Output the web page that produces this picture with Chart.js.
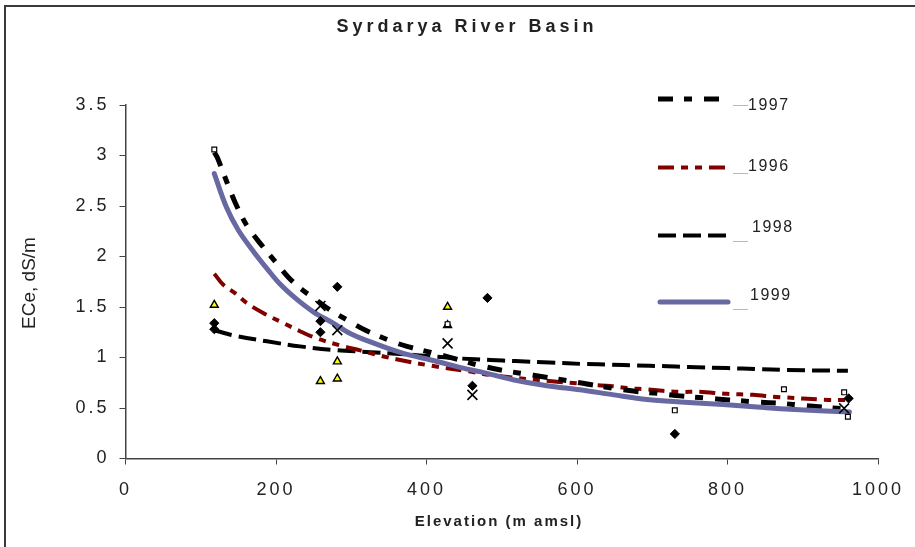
<!DOCTYPE html>
<html><head><meta charset="utf-8">
<script src="https://cdn.jsdelivr.net/npm/chart.js@4"></script>
<style>html,body{margin:0;padding:0;background:#fff;overflow:hidden;}#wrap{width:915px;height:547px;}</style>
</head><body><div id="wrap"><canvas id="c" width="915" height="547"></canvas></div>
<script>
// ---------- texts ----------
const chartTitle = "Syrdarya River Basin";
const xAxisTitle = "Elevation (m amsl)";
const yAxisTitle = "ECe, dS/m";
const xTickValues = [0, 200, 400, 600, 800, 1000];
const yTickValues = [0, 0.5, 1, 1.5, 2, 2.5, 3, 3.5];
const legendLabels = ["1997", "1996", "1998", "1999"];

// ---------- trend lines ----------
const trend1997X = [118,122,133,146,161,179,199,217,235,250,270,295,319,354,374,406,442,471,507,542,575,608,644,677,707,737,769,802,839,872,902,957];
const trend1997Y = [3.03,2.98,2.77,2.53,2.31,2.13,1.95,1.79,1.67,1.59,1.48,1.37,1.27,1.16,1.11,1.05,0.98,0.92,0.865,0.825,0.785,0.745,0.70,0.665,0.645,0.62,0.60,0.58,0.56,0.545,0.525,0.49];

const trend1996X = [118,130,146,161,183,210,232,254,285,312,343,365,409,455,491,573,600,621,644,670,693,714,739,763,799,834,865,934,957];
const trend1996Y = [1.83,1.72,1.635,1.54,1.44,1.34,1.26,1.19,1.12,1.07,1.01,0.975,0.915,0.865,0.82,0.76,0.745,0.728,0.718,0.695,0.685,0.67,0.66,0.66,0.64,0.63,0.61,0.58,0.58];

const trend1998X = [118,143,188,232,276,320,365,409,445,485,518,564,611,644,679,713,748,800,839,879,960];
const trend1998Y = [1.27,1.22,1.16,1.11,1.075,1.055,1.035,1.01,0.99,0.975,0.965,0.95,0.935,0.93,0.92,0.915,0.905,0.895,0.886,0.876,0.868];

const trend1999X = [118,134,150,170,188,205,227,250,276,298,320,365,409,454,471,515,560,604,649,693,737,794,839,883,962];
const trend1999Y = [2.82,2.49,2.26,2.05,1.88,1.73,1.58,1.45,1.34,1.24,1.17,1.05,0.97,0.885,0.86,0.78,0.72,0.68,0.63,0.585,0.56,0.535,0.51,0.487,0.46];

// ---------- observed points ----------
const squareX   = [118, 428, 730, 875, 955, 960];
const squareY   = [3.06, 1.33, 0.477, 0.685, 0.655, 0.414];
const diamondX  = [118, 118, 259, 259, 281.5, 461, 481, 730, 961];
const diamondY  = [1.34, 1.28, 1.36, 1.25, 1.70, 0.72, 1.59, 0.243, 0.595];
const triangleX = [118, 259, 281.5, 281.5, 428, 428];
const triangleY = [1.52, 0.765, 0.79, 0.96, 1.50, 1.32];
const crossX    = [259, 281.5, 428, 461, 955];
const crossY    = [1.51, 1.27, 1.14, 0.63, 0.497];

const pts = (xs, ys) => xs.map((x, i) => ({x: x, y: ys[i]}));
const FONT = "'Liberation Sans', Arial, sans-serif";

const markerBase = {type: 'scatter', showLine: false};
const lineBase = {type: 'scatter', showLine: true, pointRadius: 0, pointHoverRadius: 0, tension: 0.35, fill: false, borderCapStyle: 'butt'};

const datasets = [
  Object.assign({}, markerBase, {label: 'pts-square', data: pts(squareX, squareY), pointStyle: 'rect', pointRadius: 3.4, backgroundColor: '#ffffff', borderColor: '#000', borderWidth: 1.2}),
  Object.assign({}, markerBase, {label: 'pts-diamond', data: pts(diamondX, diamondY), pointStyle: 'rectRot', pointRadius: 4.6, backgroundColor: '#000', borderColor: '#000', borderWidth: 1}),
  Object.assign({}, markerBase, {label: 'pts-triangle', data: pts(triangleX, triangleY), pointStyle: 'triangle', pointRadius: 4.6, backgroundColor: '#ffff00', borderColor: '#000', borderWidth: 1.4}),
  Object.assign({}, markerBase, {label: 'pts-cross', data: pts(crossX, crossY), pointStyle: 'crossRot', pointRadius: 7, backgroundColor: '#000', borderColor: '#000', borderWidth: 1.6}),
  Object.assign({}, lineBase, {label: legendLabels[3], data: pts(trend1999X, trend1999Y), borderColor: '#6868a2', borderWidth: 5, borderDash: [], borderCapStyle: 'round'}),
  Object.assign({}, lineBase, {label: legendLabels[0], data: pts(trend1997X, trend1997Y), borderColor: '#000000', borderWidth: 5, borderDash: [15, 11, 8, 12]}),
  Object.assign({}, lineBase, {label: legendLabels[1], data: pts(trend1996X, trend1996Y), borderColor: '#800000', borderWidth: 4, borderDash: [16, 7, 7, 7, 7, 7]}),
  Object.assign({}, lineBase, {label: legendLabels[2], data: pts(trend1998X, trend1998Y), borderColor: '#000000', borderWidth: 4, borderDash: [18, 7]})
];

const decor = {
  id: 'decor',
  beforeDraw(chart) {
    const ctx = chart.ctx;
    ctx.save();
    ctx.fillStyle = '#ffffff';
    ctx.fillRect(0, 0, chart.width, chart.height);
    ctx.restore();
    ctx.letterSpacing = '3px';
  },
  afterDraw(chart) {
    const ctx = chart.ctx;
    ctx.letterSpacing = '0px';
    ctx.save();
    // frame
    ctx.strokeStyle = '#3a3a3a';
    ctx.lineWidth = 2;
    ctx.beginPath();
    ctx.moveTo(5, 548); ctx.lineTo(5, 6); ctx.lineTo(916, 6);
    ctx.stroke();

    // title
    ctx.fillStyle = '#222';
    ctx.textAlign = 'center';
    ctx.textBaseline = 'middle';
    ctx.font = 'bold 18px ' + FONT;
    ctx.letterSpacing = '4px';
    ctx.fillText(chartTitle, 467, 27);

    // x axis title
    ctx.font = 'bold 15px ' + FONT;
    ctx.letterSpacing = '2px';
    ctx.fillText(xAxisTitle, 499, 522);

    // y axis title
    ctx.letterSpacing = '0px';
    ctx.font = '19px ' + FONT;
    ctx.save();
    ctx.translate(30, 283);
    ctx.rotate(-Math.PI / 2);
    ctx.fillText(yAxisTitle, 0, 0);
    ctx.restore();

    // legend
    const order = [0, 1, 2, 3];
    const lineY = [99, 167.5, 235.5, 302];
    const textX = [748, 748, 752, 750];
    const textY = [106, 167, 228, 296];
    const leadY = [105, 173, 241, 309];
    order.forEach((k, i) => {
      const ds = chart.data.datasets.find(d => d.label === legendLabels[k]);
      ctx.save();
      ctx.strokeStyle = ds.borderColor;
      ctx.lineWidth = ds.borderWidth;
      ctx.lineCap = ds.borderCapStyle || 'butt';
      ctx.setLineDash(ds.borderDash || []);
      ctx.beginPath();
      const x0 = ds.borderCapStyle === 'round' ? 660 : 658;
      const x1 = ds.borderCapStyle === 'round' ? 728 : 730;
      ctx.moveTo(x0, lineY[i]); ctx.lineTo(x1, lineY[i]);
      ctx.stroke();
      ctx.restore();
      ctx.strokeStyle = '#b8b8b8';
      ctx.lineWidth = 1;
      ctx.beginPath();
      ctx.moveTo(733, leadY[i] + 0.5); ctx.lineTo(748, leadY[i] + 0.5);
      ctx.stroke();
      ctx.fillStyle = '#222';
      ctx.textAlign = 'left';
      ctx.font = '16px ' + FONT;
      ctx.letterSpacing = '1.5px';
      ctx.fillText(ds.label, textX[i], textY[i]);
      ctx.letterSpacing = '0px';
    });
    ctx.restore();
  }
};

new Chart(document.getElementById('c'), {
  type: 'scatter',
  data: {datasets: datasets},
  options: {
    responsive: false,
    animation: false,
    devicePixelRatio: 1,
    events: [],
    layout: {padding: {left: 0, top: 105, right: 37, bottom: 0}},
    plugins: {legend: {display: false}, title: {display: false}, tooltip: {enabled: false}},
    scales: {
      x: {
        type: 'linear', min: 0, max: 1000,
        afterBuildTicks(s) { s.ticks = xTickValues.map(v => ({value: v})); },
        afterFit(s) { s.height = 88.5; s.paddingLeft = 0; s.paddingRight = 0; },
        ticks: {color: '#222', padding: 15, maxRotation: 0, font: {size: 18, family: FONT}, callback: v => String(v)},
        grid: {drawOnChartArea: false, drawTicks: true, tickLength: 6, color: '#444', lineWidth: 1},
        border: {display: true, color: '#444', width: 1.5}
      },
      y: {
        type: 'linear', min: 0, max: 3.5,
        afterBuildTicks(s) { s.ticks = yTickValues.map(v => ({value: v})); },
        afterFit(s) { s.width = 125.5; s.paddingTop = 0; s.paddingBottom = 0; },
        ticks: {color: '#222', padding: 10, font: {size: 18, family: FONT}, callback: v => String(v)},
        grid: {drawOnChartArea: false, drawTicks: true, tickLength: 6, color: '#444', lineWidth: 1},
        border: {display: true, color: '#444', width: 1.5}
      }
    }
  },
  plugins: [decor]
});
</script></body></html>
